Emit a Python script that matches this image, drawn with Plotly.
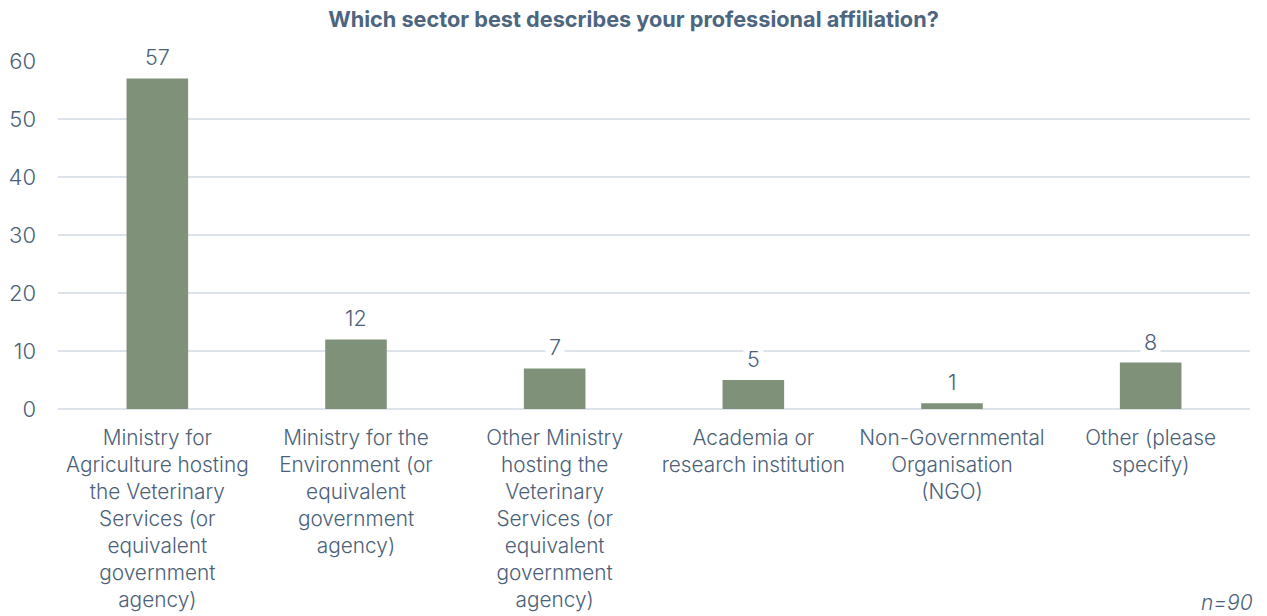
import plotly.graph_objects as go

categories = [
    "Ministry for<br>Agriculture hosting<br>the Veterinary<br>Services (or<br>equivalent<br>government<br>agency)",
    "Ministry for the<br>Environment (or<br>equivalent<br>government<br>agency)",
    "Other Ministry<br>hosting the<br>Veterinary<br>Services (or<br>equivalent<br>government<br>agency)",
    "Academia or<br>research institution",
    "Non-Governmental<br>Organisation<br>(NGO)",
    "Other (please<br>specify)",
]
values = [57, 12, 7, 5, 1, 8]
title_text = "Which sector best describes your professional affiliation?"
note_text = "n=90"

TEXT = "#4b6178"
FONT = "Inter"

fig = go.Figure()
fig.add_trace(go.Bar(
    x=categories, y=values,
    marker=dict(color="#7f9179", line=dict(width=0)),
    width=0.31,
    hoverinfo="skip",
))

for c, v in zip(categories, values):
    fig.add_annotation(
        x=c, y=v, text=str(v), showarrow=False,
        yanchor="middle", yshift=21,
        font=dict(family=FONT, size=21.5, color=TEXT, weight=300),
        bgcolor="white", borderpad=3,
    )

fig.add_annotation(
    x=1.0, y=0, xref="paper", yref="paper", yshift=-193, xshift=5,
    xanchor="right", yanchor="middle", showarrow=False,
    text="<i>" + note_text + "</i>",
    font=dict(family=FONT, size=21, color=TEXT, weight=300),
)

fig.update_layout(
    width=1267, height=616,
    margin=dict(l=58, r=17, t=61, b=207),
    paper_bgcolor="white", plot_bgcolor="white",
    showlegend=False,
    title=dict(
        text="<b>" + title_text + "</b>",
        x=0.5, xanchor="center", y=1 - 19/616, yanchor="middle",
        font=dict(family=FONT, size=21.7, color="#4d6680"),
    ),
    xaxis=dict(
        showgrid=False, showline=False, zeroline=False, automargin=False,
        ticks="", tickangle=0, ticklabelstandoff=14,
        tickfont=dict(family=FONT, size=20.8, color=TEXT, weight=300),
    ),
    yaxis=dict(
        range=[0, 60], dtick=10, automargin=False,
        showgrid=True, gridcolor="#dde3ea", gridwidth=2,
        zeroline=True, zerolinecolor="#dde3ea", zerolinewidth=2,
        showline=False, ticks="",
        ticklabelstandoff=21,
        tickfont=dict(family=FONT, size=22, color=TEXT, weight=300),
    ),
)

fig.write_html("out.html")
